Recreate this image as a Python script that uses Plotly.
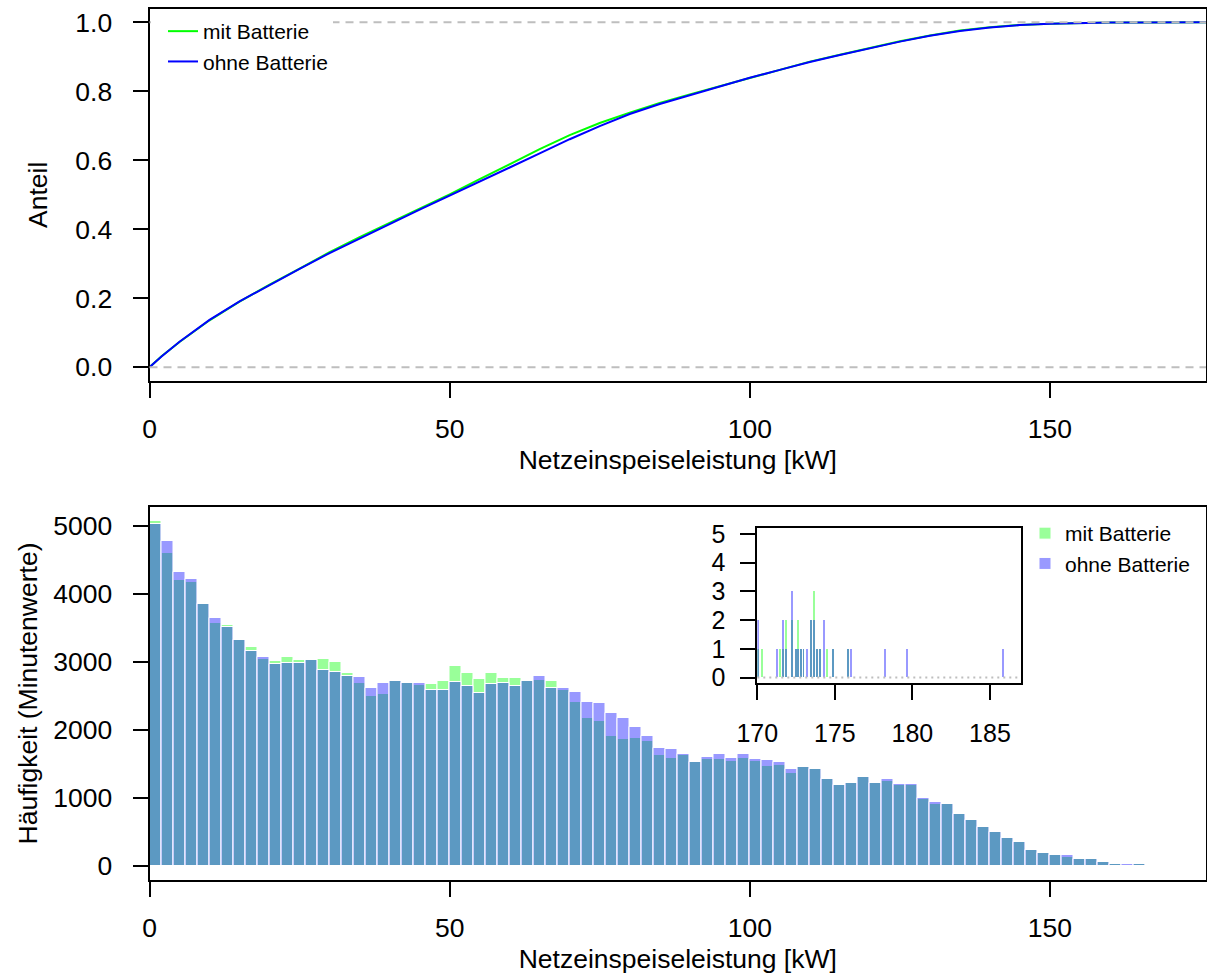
import plotly.graph_objects as go

# ---------------- data ----------------
series_names = ["mit Batterie", "ohne Batterie"]

# ECDF (top panel)
ecdf_x = [0, 2, 5, 10, 15, 20, 25, 30, 35, 40, 45, 50, 55, 60, 65, 70, 75, 80, 85, 90,
          95, 100, 105, 110, 115, 120, 125, 130, 135, 140, 145, 150, 155, 160, 165, 170, 176]
ecdf_mit = [0.0, 0.0315, 0.073, 0.136, 0.190, 0.2395, 0.286, 0.3335, 0.377, 0.418, 0.460,
            0.501, 0.545, 0.589, 0.632, 0.673, 0.708, 0.738, 0.766, 0.791, 0.815, 0.840,
            0.863, 0.886, 0.906, 0.926, 0.945, 0.962, 0.976, 0.986, 0.9925, 0.996, 0.998,
            0.9993, 0.9997, 0.9999, 1.0]
ecdf_ohne = [0.0, 0.031, 0.074, 0.137, 0.191, 0.239, 0.285, 0.331, 0.374, 0.415, 0.457,
             0.497, 0.538, 0.579, 0.620, 0.661, 0.699, 0.734, 0.763, 0.789, 0.814, 0.839,
             0.862, 0.885, 0.905, 0.925, 0.944, 0.961, 0.975, 0.985, 0.992, 0.9955, 0.998,
             0.9992, 0.9997, 0.9999, 1.0]

# Histogram (bottom panel), 2 kW bins from 0 to 168 kW
bin_edges = list(range(0, 170, 2))
hist_mit = [5070, 4595, 4200, 4170, 3865, 3565, 3545, 3325, 3225, 3039,
            3005, 3069, 3029, 3024, 3039, 3000, 2843, 2696, 2505, 2534,
            2725, 2686, 2662, 2681, 2716, 2936, 2838, 2755, 2843, 2760,
            2760, 2716, 2740, 2721, 2588, 2412, 2176, 2137, 1912, 1863,
            1882, 1843, 1632, 1583, 1627, 1534, 1578, 1574, 1544, 1593,
            1549, 1466, 1485, 1373, 1451, 1422, 1279, 1186, 1225, 1304,
            1216, 1250, 1186, 1186, 985, 907, 917, 760, 676, 574,
            505, 417, 358, 235, 191, 167, 142, 108, 108, 64,
            39, 15, 34, 5]
hist_ohne = [5020, 4775, 4320, 4220, 3845, 3637, 3510, 3314, 3152, 3073,
             2961, 2990, 2980, 3024, 2873, 2848, 2799, 2770, 2613, 2686,
             2725, 2686, 2686, 2588, 2583, 2711, 2652, 2539, 2672, 2696,
             2652, 2716, 2789, 2613, 2613, 2554, 2412, 2392, 2255, 2172,
             2039, 1912, 1730, 1725, 1642, 1534, 1608, 1647, 1583, 1647,
             1578, 1554, 1534, 1422, 1451, 1422, 1279, 1186, 1225, 1304,
             1216, 1279, 1211, 1201, 1000, 941, 917, 765, 676, 574,
             505, 417, 358, 235, 191, 167, 157, 108, 108, 64,
             39, 29, 34, 20]

# Inset: rare high values (170-187 kW)
inset_x_mit = [170.09, 170.30, 171.50, 171.68, 171.85, 172.28, 172.49, 172.66, 172.83,
               173.00, 173.50, 173.67, 173.87, 174.08, 174.50, 174.90, 175.86]
inset_n_mit = [1, 1, 1, 1, 2, 2, 1, 2, 1, 1, 2, 3, 1, 1, 1, 1, 1]
inset_x_ohne = [170.09, 171.29, 171.68, 171.85, 172.28, 172.49, 172.66, 172.83, 173.00,
                173.20, 173.50, 173.67, 173.87, 174.08, 174.30, 174.90, 175.86, 176.07,
                178.27, 179.69, 185.84]
inset_n_ohne = [2, 1, 2, 1, 3, 1, 1, 1, 1, 1, 2, 2, 1, 1, 2, 1, 1, 1, 1, 1, 1]

# ---------------- styles ----------------
GREEN_LINE = "#00FF00"
BLUE_LINE = "#0000FF"
GREEN_FILL = "rgba(0,255,0,0.4)"
BLUE_FILL = "rgba(0,0,255,0.4)"
FONT = "Arial, Liberation Sans, sans-serif"
W, H = 1207, 979
FS = 26.5

bin_mid = [e + 1 for e in bin_edges[:-1]]

fig = go.Figure()

# top: ECDF
fig.add_trace(go.Scatter(x=ecdf_x, y=ecdf_mit, mode="lines", name=series_names[0],
                         line=dict(color=GREEN_LINE, width=2), xaxis="x", yaxis="y",
                         legend="legend"))
fig.add_trace(go.Scatter(x=ecdf_x, y=ecdf_ohne, mode="lines", name=series_names[1],
                         line=dict(color=BLUE_LINE, width=2), xaxis="x", yaxis="y",
                         legend="legend"))

# bottom: histogram
fig.add_trace(go.Bar(x=bin_mid, y=hist_mit, width=2, name=series_names[0],
                     marker=dict(color=GREEN_FILL, line=dict(color="white", width=1)),
                     xaxis="x2", yaxis="y2", legend="legend2"))
fig.add_trace(go.Bar(x=bin_mid, y=hist_ohne, width=2, name=series_names[1],
                     marker=dict(color=BLUE_FILL, line=dict(color="white", width=1)),
                     xaxis="x2", yaxis="y2", legend="legend2"))

# inset
fig.add_trace(go.Bar(x=inset_x_mit, y=inset_n_mit, width=0.12, showlegend=False,
                     marker=dict(color=GREEN_FILL, line=dict(width=0)),
                     xaxis="x3", yaxis="y3"))
fig.add_trace(go.Bar(x=inset_x_ohne, y=inset_n_ohne, width=0.12, showlegend=False,
                     marker=dict(color=BLUE_FILL, line=dict(width=0)),
                     xaxis="x3", yaxis="y3"))


def px_x(p):
    return p / W


def px_y(p):
    return 1 - p / H


axis_common = dict(showline=True, mirror=True, linecolor="black", linewidth=2,
                   ticks="outside", ticklen=15, tickwidth=2, tickcolor="black",
                   showgrid=False, zeroline=False, automargin=False,
                   tickfont=dict(family=FONT, size=FS, color="black"))
inset_axis = {**axis_common, "tickfont": dict(family=FONT, size=25, color="black")}

layout = dict(
    width=W, height=H, autosize=False,
    margin=dict(l=0, r=0, t=0, b=0, autoexpand=False),
    paper_bgcolor="white", plot_bgcolor="white",
    barmode="overlay", bargap=0,
    font=dict(family=FONT, color="black"),
    xaxis=dict(domain=[px_x(149.5), px_x(1206)], range=[0, 176], anchor="y",
               tickvals=[0, 50, 100, 150], ticklabelstandoff=8,
               title=dict(text="Netzeinspeiseleistung [kW]", font=dict(size=FS), standoff=8),
               **axis_common),
    yaxis=dict(domain=[px_y(381), px_y(8.5)], range=[-0.04, 1.04], anchor="x",
               tickvals=[0, 0.2, 0.4, 0.6, 0.8, 1.0], tickformat=".1f", ticklabelstandoff=15,
               title=dict(text="Anteil", font=dict(size=FS), standoff=20),
               **axis_common),
    xaxis2=dict(domain=[px_x(149.5), px_x(1206)], range=[0, 176], anchor="y2",
                tickvals=[0, 50, 100, 150], ticklabelstandoff=8,
                title=dict(text="Netzeinspeiseleistung [kW]", font=dict(size=FS), standoff=8),
                **axis_common),
    yaxis2=dict(domain=[px_y(880), px_y(507)], range=[-203, 5273], anchor="x2",
                tickvals=[0, 1000, 2000, 3000, 4000, 5000], ticklabelstandoff=15,
                title=dict(text="Häufigkeit (Minutenwerte)", font=dict(size=FS), standoff=8),
                **axis_common),
    xaxis3=dict(domain=[px_x(757.3), px_x(1021)], range=[170, 187], anchor="y3",
                tickvals=[170, 175, 180, 185], ticklabelstandoff=12, **inset_axis),
    yaxis3=dict(domain=[px_y(683.3), px_y(528.3)], range=[-0.2, 5.2], anchor="x3",
                tickvals=[0, 1, 2, 3, 4, 5], ticklabelstandoff=10, **inset_axis),
    legend=dict(x=px_x(151), y=px_y(11), xanchor="left", yanchor="top",
                bgcolor="white", borderwidth=0, indentation=12,
                font=dict(family=FONT, size=21, color="black"), tracegroupgap=0),
    legend2=dict(x=px_x(1025), y=px_y(513), xanchor="left", yanchor="top",
                 bgcolor="rgba(0,0,0,0)", borderwidth=0,
                 font=dict(family=FONT, size=21, color="black"), tracegroupgap=0),
    shapes=[
        dict(type="line", xref="x domain", yref="y", x0=0, x1=1, y0=0, y1=0,
             line=dict(color="#BEBEBE", width=2, dash="8px,6px"), layer="above"),
        dict(type="line", xref="x domain", yref="y", x0=0, x1=1, y0=1, y1=1,
             line=dict(color="#BEBEBE", width=2, dash="8px,6px"), layer="above"),
        dict(type="line", xref="x3 domain", yref="y3", x0=0, x1=1, y0=0, y1=0,
             line=dict(color="#BEBEBE", width=2, dash="2px,4px"), layer="above"),
    ],
)
fig.update_layout(**layout)

fig.write_html("out.html")
